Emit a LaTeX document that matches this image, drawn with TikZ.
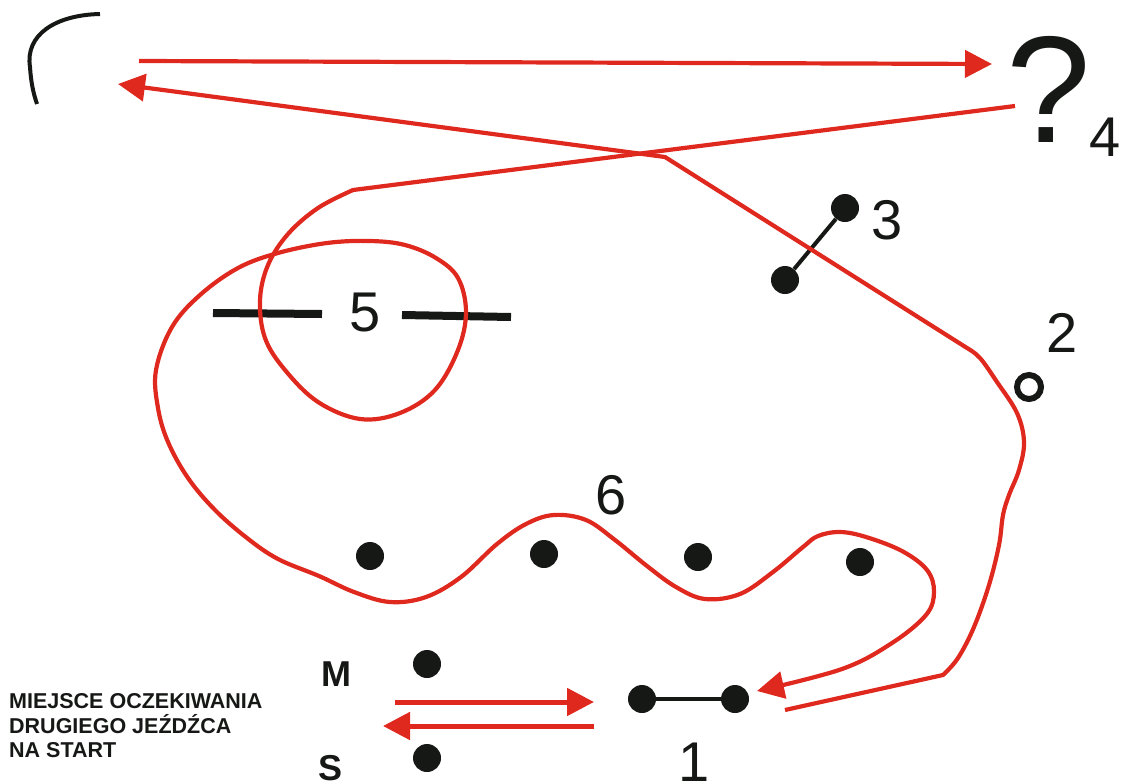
\documentclass[tikz,border=0pt]{standalone}
\usepackage{fontspec}
\setmainfont{Liberation Sans}
\usetikzlibrary{arrows.meta}
\definecolor{course}{RGB}{224,41,30}
\definecolor{ink}{RGB}{22,24,22}
\tikzset{
  route/.style={draw=course, line width=4.2pt, line join=round},
  tip/.style={-{Triangle[length=27pt,width=27pt]}},
  flag/.style={circle, fill=ink, inner sep=0pt, minimum size=28pt},
  bar/.style={draw=ink, line width=4pt},
  num/.style={inner sep=0pt, text=ink, font=\fontsize{56}{56}\selectfont},
  lbl/.style={inner sep=0pt, text=ink, font=\bfseries\fontsize{36}{36}\selectfont},
}
\begin{document}
\begin{tikzpicture}[x=1pt,y=-1pt]
\useasboundingbox (0,0) rectangle (1125,782);

% top-left black arc
\draw[ink, line width=4pt] (100,14) .. controls (55,15) and (25,35) .. (30,67) .. controls (31,82) and (33,92) .. (37,104);

% obstacle markers
\node[flag] (s1a) at (642,699) {};
\node[flag] (s1b) at (735,699) {};
\draw[bar] (s1a) -- (s1b);
\node[num] (n1) at (694,762) {1};

\node[circle, draw=ink, line width=6pt, minimum size=24pt, inner sep=0pt] (o2) at (1029,387) {};
\node[num] (n2) at (1062,333) {2};

\node[flag] (s3a) at (845,208) {};
\node[flag] (s3b) at (785,280) {};
\draw[bar] (s3a) -- (s3b);
\node[num] (n3) at (887,220) {3};

\node[inner sep=0pt, text=ink, font=\fontsize{152}{152}\selectfont] (q4) at (1049,89) {?};
\node[num] (n4) at (1105,137) {4};

\draw[ink, line width=8pt] (213,313) -- (322,314);
\draw[ink, line width=8pt] (402,315) -- (511,317);
\node[num] (n5) at (365,313) {5};

\node[flag] (d6a) at (370,556) {};
\node[flag] (d6b) at (544,554) {};
\node[flag] (d6c) at (698,557) {};
\node[flag] (d6d) at (860,562) {};
\node[num] (n6) at (611,495) {6};

\node[flag] (dm) at (427,664) {};
\node[flag] (ds) at (427,758) {};
\node[lbl] (lm) at (336,674) {M};
\node[lbl] (ls) at (331,768) {S};

\node[inner sep=0pt, text=ink, align=left, anchor=west,
      font=\bfseries\fontsize{21.5}{24.5}\selectfont] (wait) at (9,726)
  {MIEJSCE OCZEKIWANIA\\DRUGIEGO JEŹDŹCA\\NA START};

% start / finish arrows
\coordinate (a1) at (395,702);
\coordinate (a2) at (594,702);
\coordinate (b1) at (594,726);
\coordinate (b2) at (383,726);
\draw[route, line width=5pt, tip] (a1) -- (a2);
\draw[route, line width=5pt, tip] (b1) -- (b2);

% course: 1 -> 2 -> 3 -> left
\draw[route, tip] (785,710) -- (943,675)
  -- plot[smooth, tension=0.6] coordinates {(943,675) (958,658) (974,627) (989,585) (999,545) (1003,515) (1009,495) (1019,470) (1024,442) (1017,413) (997,382) (980,358) (967,348)}
  -- (665,157) -- (118,84);

% top arrow to ?
\draw[route, tip] (139,61) -- (992,64);

% from ? round 5, along 6, back to 1
\draw[route, tip] (1015,106) -- (353,190)
  -- plot[smooth, tension=0.6] coordinates {(353,190) (318,208) (288,234) (268,265) (260,300) (265,338) (285,370) (318,402) (360,419) (400,413) (435,390) (458,350) (466,312) (458,278) (436,258) (405,245) (370,241) (327,243) (278,253) (238,268) (200,295) (172,327) (156,370) (158,408) (168,442) (188,478) (215,510) (247,538) (278,559) (319,576) (354,592) (390,602) (426,597) (461,577) (497,544) (526,524) (554,515) (586,520) (615,540) (647,566) (676,587) (705,599) (740,594) (773,572) (803,547) (818,536) (840,532) (866,537) (902,551) (927,570) (934,592) (926,615) (892,643) (842,669) (757,691)};
\end{tikzpicture}
\end{document}
